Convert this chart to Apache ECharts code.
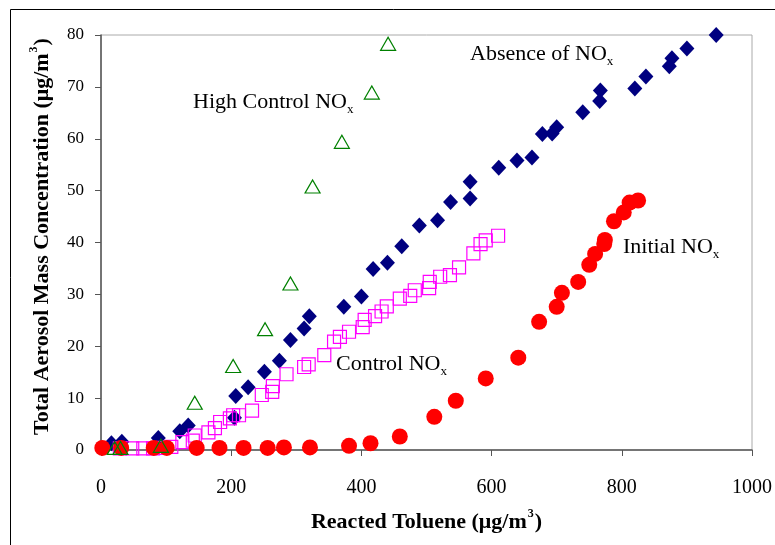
<!DOCTYPE html>
<html>
<head>
<meta charset="utf-8">
<script src="https://cdn.jsdelivr.net/npm/echarts@6/dist/echarts.min.js"></script>
<style>html,body{margin:0;padding:0;background:#fff}#c{width:775px;height:545px}</style>
</head>
<body>
<div id="c"></div>
<script>
// Absence of NOx (navy diamonds)
var absenceX = [16, 32, 88, 121, 134, 205, 207, 226, 251, 274, 291, 312, 320, 373, 400, 418, 440, 462, 489, 517, 537, 567, 567, 611, 639, 662, 678, 693, 700, 740, 766, 767, 820, 837, 873, 877, 900, 945];
var absenceY = [1.3, 1.6, 2.3, 3.6, 4.7, 6.2, 10.4, 12.1, 15.1, 17.2, 21.2, 23.4, 25.8, 27.6, 29.6, 34.9, 36.1, 39.3, 43.3, 44.3, 47.8, 48.5, 51.7, 54.4, 55.8, 56.4, 60.9, 61.0, 62.2, 65.1, 67.3, 69.3, 69.7, 72.0, 74.0, 75.5, 77.4, 80.0];
// Control NOx (magenta open squares)
var controlX = [29, 48, 65, 80, 95, 108, 125, 141, 144, 165, 175, 183, 198, 203, 212, 232, 247, 263, 264, 285, 312, 319, 343, 358, 367, 381, 402, 405, 421, 431, 439, 459, 475, 482, 504, 505, 521, 536, 550, 572, 583, 591, 610];
var controlY = [0.3, 0.3, 0.3, 0.3, 0.4, 0.6, 1.5, 1.8, 2.8, 3.4, 4.2, 5.4, 6.1, 6.7, 6.7, 7.6, 10.6, 11.2, 12.3, 14.6, 16.0, 16.5, 18.3, 20.9, 21.8, 22.8, 23.7, 25.1, 25.8, 26.7, 27.7, 29.2, 29.7, 30.8, 31.2, 32.4, 33.4, 33.7, 35.2, 37.9, 39.7, 40.4, 41.3];
// Initial NOx (red circles)
var initialX = [2, 31, 81, 101, 147, 182, 219, 256, 281, 321, 381, 414, 459, 512, 545, 591, 641, 673, 700, 708, 733, 750, 759, 773, 774, 788, 803, 812, 825];
var initialY = [0.4, 0.4, 0.4, 0.4, 0.4, 0.4, 0.4, 0.4, 0.5, 0.5, 0.8, 1.3, 2.6, 6.4, 9.5, 13.8, 17.8, 24.7, 27.6, 30.3, 32.4, 35.7, 37.8, 39.7, 40.5, 44.1, 45.8, 47.7, 48.1];
// High Control NOx (green open triangles)
var highX = [21, 30, 92, 144, 203, 252, 291, 325, 370, 416, 441];
var highY = [0.4, 0.4, 0.8, 9.1, 16.2, 23.3, 32.1, 50.8, 59.4, 68.9, 78.3];

var xTicks = [0, 200, 400, 600, 800, 1000];
var yTicks = [0, 10, 20, 30, 40, 50, 60, 70, 80];

function pairs(xs, ys) { return xs.map(function (x, i) { return [x, ys[i]]; }); }

var SERIF = '"Liberation Serif", "Times New Roman", serif';
var chart = echarts.init(document.getElementById('c'), null, { renderer: 'canvas' });

function lbl(main, sub) {
  return '{a|' + main + '}{s|' + sub + '}';
}
var richNOx = {
  a: { fontSize: 22, fontFamily: SERIF, color: '#000', lineHeight: 25, verticalAlign: 'top' },
  s: { fontSize: 13, fontFamily: SERIF, color: '#000', lineHeight: 13, verticalAlign: 'top', padding: [12, 0, 0, 0] }
};
function textEl(left, top, main) {
  return { type: 'text', left: left, top: top, z: 10,
    style: { text: lbl(main, 'x'), rich: richNOx, fill: '#000' } };
}
var titleRich = {
  b: { fontSize: 22, fontWeight: 'bold', fontFamily: SERIF, color: '#000', lineHeight: 25, verticalAlign: 'bottom' },
  p: { fontSize: 12, fontWeight: 'bold', fontFamily: SERIF, color: '#000', lineHeight: 12, verticalAlign: 'top', padding: [0, 1, 0, 1] }
};

chart.setOption({
  animation: false,
  backgroundColor: '#fff',
  grid: { left: 101, right: 23, top: 35, bottom: 95, show: true, borderColor: '#aaa', borderWidth: 1 },
  xAxis: {
    type: 'value', min: 0, max: 1000, interval: 200,
    axisLine: { show: true, onZero: false, lineStyle: { color: '#555', width: 1.5 } },
    axisTick: { show: true, inside: false, length: 6, lineStyle: { color: '#555' } },
    splitLine: { show: false },
    axisLabel: { margin: 28, fontSize: 20, fontFamily: SERIF, color: '#000',
      formatter: function (v) { return xTicks.indexOf(v) >= 0 ? String(v) : ''; } },
    name: '{b|Reacted Toluene (μg/m}{p|3}{b|)}',
    nameLocation: 'middle', nameGap: 58,
    nameTextStyle: { rich: titleRich }
  },
  yAxis: {
    type: 'value', min: 0, max: 80, interval: 10,
    axisLine: { show: true, onZero: false, lineStyle: { color: '#555', width: 1.5 } },
    axisTick: { show: true, inside: false, length: 6, lineStyle: { color: '#555' } },
    splitLine: { show: false },
    axisLabel: { margin: 17, fontSize: 17, fontFamily: SERIF, color: '#000',
      formatter: function (v) { return yTicks.indexOf(v) >= 0 ? String(v) : ''; } },
    name: '{b|Total Aerosol Mass Concentration (μg/m}{p|3}{b|)}',
    nameLocation: 'middle', nameGap: 48, nameRotate: 90,
    nameTextStyle: { padding: [0, 0, 0, 12], rich: titleRich }
  },
  series: [
    { name: 'Absence of NOx', type: 'scatter', symbol: 'diamond', symbolSize: [15, 16], z: 2,
      itemStyle: { color: '#000080', opacity: 1 }, data: pairs(absenceX, absenceY) },
    { name: 'Control NOx', type: 'scatter', symbol: 'rect', symbolSize: 13, z: 3,
      itemStyle: { color: 'rgba(0,0,0,0)', borderColor: '#FF00FF', borderWidth: 1.2, opacity: 1 }, data: pairs(controlX, controlY) },
    { name: 'Initial NOx', type: 'scatter', symbol: 'circle', symbolSize: 16, z: 4,
      itemStyle: { color: '#FF0000', opacity: 1 }, data: pairs(initialX, initialY) },
    { name: 'High Control NOx', type: 'scatter', symbol: 'triangle', symbolSize: [15, 13], z: 5,
      itemStyle: { color: 'rgba(0,0,0,0)', borderColor: '#008000', borderWidth: 1.2, opacity: 1 }, data: pairs(highX, highY) }
  ],
  graphic: [
    { type: 'rect', left: 8, top: 7, z: -1, silent: true,
      shape: { x: 0, y: 0, width: 800, height: 600 },
      style: { fill: 'none', stroke: '#000', lineWidth: 1 } },
    textEl(470, 43, 'Absence of NO'),
    textEl(193, 91, 'High Control NO'),
    textEl(336, 353, 'Control NO'),
    textEl(623, 236, 'Initial NO')
  ]
});
</script>
</body>
</html>
